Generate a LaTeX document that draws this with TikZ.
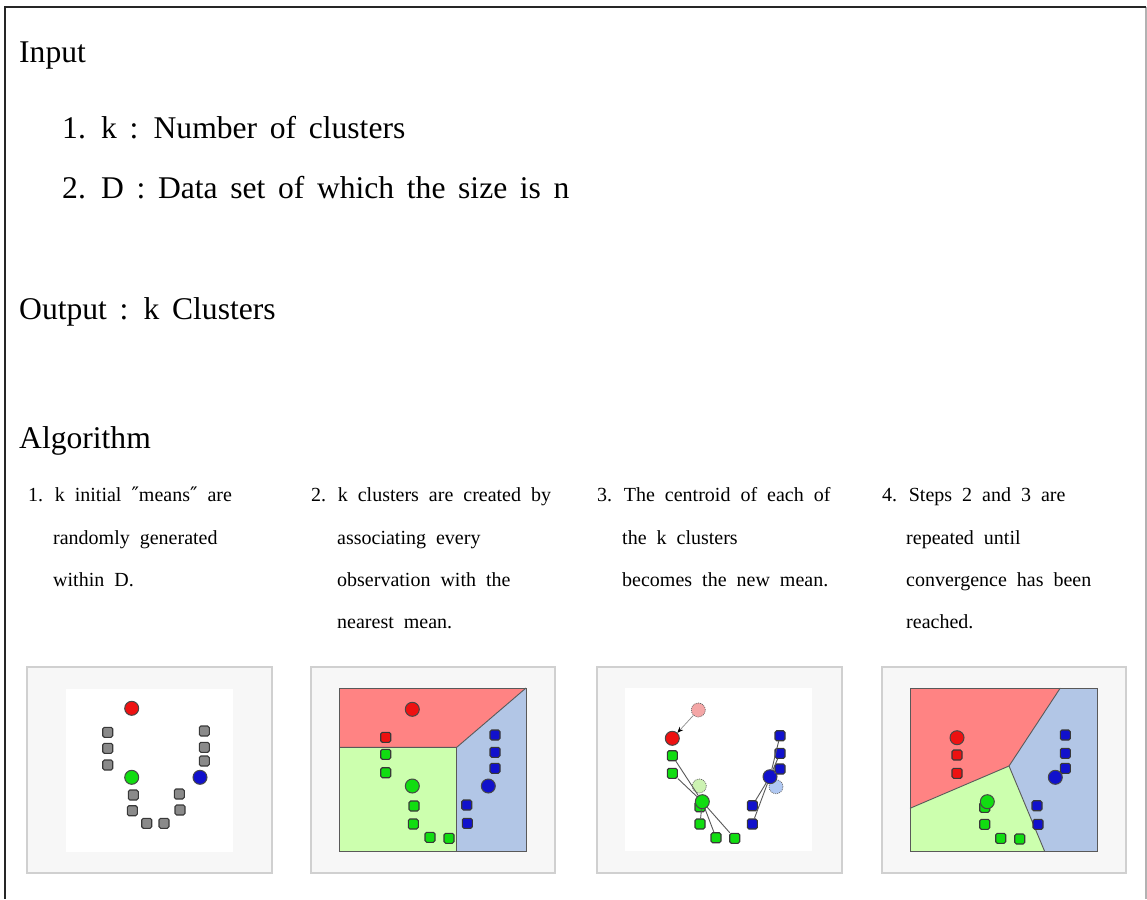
\documentclass[tikz,border=0pt]{standalone}
\usepackage{fontspec}
\setmainfont{Liberation Serif}[WordSpace=2]
\newfontfamily\bigserif{Liberation Serif}[WordSpace=1.6]
\newfontfamily\dvs{DejaVu Serif}
\usetikzlibrary{arrows.meta}
\definecolor{redpt}{HTML}{EE1111}
\definecolor{greenpt}{HTML}{11DD11}
\definecolor{bluept}{HTML}{1111CC}
\definecolor{graypt}{HTML}{8A8A8A}
\definecolor{regred}{HTML}{FF8383}
\definecolor{reggreen}{HTML}{CCFFAE}
\definecolor{regblue}{HTML}{B2C6E6}
\definecolor{fadered}{HTML}{F4A6A6}
\definecolor{fadegreen}{HTML}{CCF2B2}
\definecolor{fadeblue}{HTML}{B0C8F2}
\definecolor{panelbg}{HTML}{F7F7F7}
\definecolor{panelline}{HTML}{D0D0D0}
\newcommand{\dq}{{\dvs\char"2033}}
\begin{document}
\begin{tikzpicture}[x=1pt,y=-1pt,
  big/.style={inner sep=0,anchor=base west,font=\bigserif\fontsize{31.6}{38}\selectfont},
  small/.style={inner sep=0,anchor=base west,font=\fontsize{20}{24}\selectfont},
  panelbox/.style={draw=panelline,fill=panelbg,line width=1.2},
  sq/.style={rectangle,rounded corners=1.6,minimum size=10,inner sep=0,draw=black!78,line width=1.1},
  cir/.style={circle,minimum size=14,inner sep=0,draw=black!72,line width=1},
  fcir/.style={circle,minimum size=14,inner sep=0,draw=black!60,dashed,dash pattern=on 1pt off 1pt,line width=0.7},
  region/.style={draw=black!65,line width=0.9},
  link/.style={draw=black!65,line width=0.9}]
\useasboundingbox (0,0) rectangle (1147,899);
% frame
\draw[line width=1.3,black!30] (1146,7) -- (1146,899);
\draw[line width=1.6,black!85] (5,7) -- (5,899);
\draw[line width=2,black!85] (4,7) -- (1146,7);
% texts
\node[big] (tin) at (19,63) {Input};
\node[big] (tin1) at (62,138) {1. k : Number of clusters};
\node[big] (tin2) at (62,198) {2. D : Data set of which the size is n};
\node[big] (tout) at (19,319) {Output : k Clusters};
\node[big] (talg) at (19,448) {Algorithm};
\node[small] (s1a) at (28,501) {1. k initial \dq means\dq{} are};
\node[small] (s1b) at (53,544) {randomly generated};
\node[small] (s1c) at (53,586) {within D.};
\node[small] (s2a) at (311,501) {2. k clusters are created by};
\node[small] (s2b) at (337,544) {associating every};
\node[small] (s2c) at (337,586) {observation with the};
\node[small] (s2d) at (337,628) {nearest mean.};
\node[small] (s3a) at (597,501) {3. The centroid of each of};
\node[small] (s3b) at (622,544) {the k clusters};
\node[small] (s3c) at (622,586) {becomes the new mean.};
\node[small] (s4a) at (882,501) {4. Steps 2 and 3 are};
\node[small] (s4b) at (906,544) {repeated until};
\node[small] (s4c) at (906,586) {convergence has been};
\node[small] (s4d) at (906,628) {reached.};
% ---------- panel 1
\draw[panelbox] (27,667) rectangle (272,873);
\fill[white] (66,689) rectangle (233,852);
\foreach \x/\y [count=\i] in {107.7/732.3,107.7/748.3,107.7/765,204.3/731,204.3/747.3,204.3/761,133.3/795,132.3/810.7,146.7/823.3,164/823.3,179.3/794,180/810}
  \node[sq,fill=graypt] (pa\i) at (\x,\y) {};
\node[cir,fill=redpt] (pared) at (131.7,708.3) {};
\node[cir,fill=greenpt] (pagreen) at (131.7,777.3) {};
\node[cir,fill=bluept] (pablue) at (200,777.3) {};
% ---------- panel 2
\draw[panelbox] (311,667) rectangle (555,873);
\fill[regred] (339,688) -- (526,688) -- (456.7,747.3) -- (339,747.3) -- cycle;
\fill[reggreen] (339,747.3) -- (456.7,747.3) -- (456.7,851) -- (339,851) -- cycle;
\fill[regblue] (456.7,747.3) -- (526,688) -- (526,851) -- (456.7,851) -- cycle;
\draw[region] (339,688) rectangle (526,851);
\draw[region] (339,747.3) -- (456.7,747.3) -- (526,688);
\draw[region] (456.7,747.3) -- (456.7,851);
\node[sq,fill=redpt] (pbr1) at (385.7,737.3) {};
\foreach \x/\y [count=\i] in {385.7/754.3,385.7/772.7,414/806,413.3/824,430/837.3,449/838.3}
  \node[sq,fill=greenpt] (pbg\i) at (\x,\y) {};
\foreach \x/\y [count=\i] in {495/735,495/752.3,495/768.3,466.7/805,467.3/823.3}
  \node[sq,fill=bluept] (pbb\i) at (\x,\y) {};
\node[cir,fill=redpt] (pbred) at (412.3,709.3) {};
\node[cir,fill=greenpt] (pbgreen) at (412.3,786) {};
\node[cir,fill=bluept] (pbblue) at (488.3,786) {};
% ---------- panel 3
\draw[panelbox] (597,667) rectangle (842,873);
\fill[white] (625,688) rectangle (811.7,851);
\node[fcir,fill=fadered] (pcfr) at (698.3,710) {};
\node[fcir,fill=fadegreen] (pcfg) at (699.3,786) {};
\node[fcir,fill=fadeblue] (pcfb) at (776,786.7) {};
\foreach \x/\y [count=\i] in {672.3/755.7,672.3/773.3,700/806.7,700/824,716/837.7,734.7/838.3}
  \node[sq,fill=greenpt] (pcg\i) at (\x,\y) {};
\foreach \x/\y [count=\i] in {780/735.7,780/753.3,780/769,752.3/805.7,752.3/824}
  \node[sq,fill=bluept] (pcb\i) at (\x,\y) {};
\node[cir,fill=redpt] (pcred) at (672.3,738.3) {};
\node[cir,fill=greenpt] (pcgreen) at (702.3,801.7) {};
\node[cir,fill=bluept] (pcblue) at (770,776.7) {};
\foreach \i in {1,2,4,5,6} \draw[link] (pcg\i) -- (pcgreen);
\foreach \i in {1,2,3,4,5} \draw[link] (pcb\i) -- (pcblue);
\draw[draw=black!45,line width=0.7,-{Stealth[length=6,width=5,color=black]}] (pcfr) -- (pcred);
% ---------- panel 4
\draw[panelbox] (882,667) rectangle (1126,873);
\coordinate (J) at (1009,766);
\coordinate (JL) at (910,808.3);
\coordinate (JT) at (1060.3,688);
\coordinate (JB) at (1044.7,851.5);
\fill[regred] (910,688) -- (JT) -- (J) -- (JL) -- cycle;
\fill[regblue] (JT) -- (1097.5,688) -- (1097.5,851.5) -- (JB) -- (J) -- cycle;
\fill[reggreen] (JL) -- (J) -- (JB) -- (910,851.5) -- cycle;
\draw[region] (910,688) rectangle (1097.5,851.5);
\draw[region] (JL) -- (J) -- (JT);
\draw[region] (J) -- (JB);
\foreach \x/\y [count=\i] in {957/755,957/773.3}
  \node[sq,fill=redpt] (pdr\i) at (\x,\y) {};
\foreach \x/\y [count=\i] in {984.7/807.3,984.7/824.3,1000.7/838.3,1019.7/839}
  \node[sq,fill=greenpt] (pdg\i) at (\x,\y) {};
\foreach \x/\y [count=\i] in {1065.3/735,1065.3/753.3,1065.3/768.3,1037/805.7,1038/824.3}
  \node[sq,fill=bluept] (pdb\i) at (\x,\y) {};
\node[cir,fill=redpt] (pdred) at (957,737.7) {};
\node[cir,fill=greenpt] (pdgreen) at (987.3,801.7) {};
\node[cir,fill=bluept] (pdblue) at (1055.3,777.3) {};
\end{tikzpicture}
\end{document}
